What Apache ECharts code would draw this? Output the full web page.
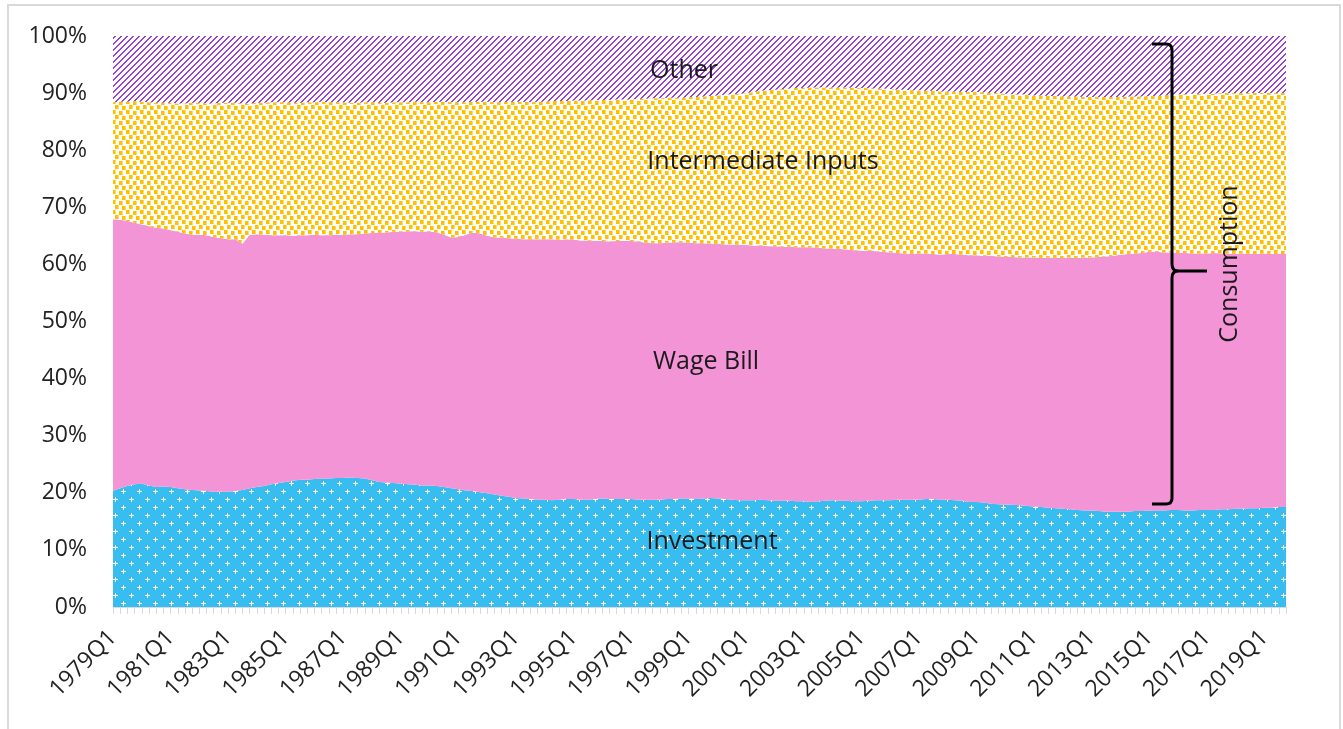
<!DOCTYPE html>
<html>
<head>
<meta charset="utf-8">
<script src="https://cdn.jsdelivr.net/npm/echarts@6/dist/echarts.min.js"></script>
<style>
  html, body { margin: 0; padding: 0; background: #fff; }
  #chart { width: 1343px; height: 729px; }
</style>
</head>
<body>
<div id="chart"></div>
<script>
// quarters 1979Q1 .. 2019Q4
const years = [1979, 1980, 1981, 1982, 1983, 1984, 1985, 1986, 1987, 1988, 1989, 1990, 1991, 1992,
  1993, 1994, 1995, 1996, 1997, 1998, 1999, 2000, 2001, 2002, 2003, 2004, 2005, 2006, 2007, 2008,
  2009, 2010, 2011, 2012, 2013, 2014, 2015, 2016, 2017, 2018, 2019]
const quarters = ['Q1', 'Q2', 'Q3', 'Q4']
const categories = []
years.forEach(y => quarters.forEach(q => categories.push(y + q)))

// band boundaries (cumulative, %)
// top of investment (bottom band)
const investment = [
  20.3, 20.8, 21.2, 21.5,  21.6, 21.3, 21.0, 21.1,  21.0, 20.8, 20.6, 20.5,  20.4, 20.3, 20.2, 20.2,
  20.2, 20.3, 20.5, 20.8,  21.0, 21.2, 21.5, 21.7,  21.9, 22.1, 22.3, 22.3,  22.4, 22.5, 22.5, 22.6,
  22.6, 22.7, 22.6, 22.5,  22.2, 21.9, 21.8, 21.7,  21.6, 21.5, 21.4, 21.3,  21.3, 21.2, 21.0, 20.8,
  20.6, 20.4, 20.3, 20.1,  19.9, 19.7, 19.5, 19.3,  19.1, 19.0, 18.9, 18.8,  18.8, 18.7, 18.8, 18.9,
  18.9, 18.8, 18.8, 18.9,  19.0, 18.9, 18.9, 18.9,  18.9, 18.8, 18.8, 18.8,  18.8, 18.9, 18.9, 19.0,
  19.0, 18.9, 19.0, 19.1,  19.0, 18.9, 18.8, 18.7,  18.7, 18.7, 18.8, 18.7,  18.6, 18.6, 18.6, 18.5,
  18.5, 18.4, 18.5, 18.6,  18.7, 18.6, 18.6, 18.5,  18.5, 18.6, 18.7, 18.7,  18.7, 18.8, 18.8, 18.8,
  18.8, 18.9, 18.9, 18.8,  18.8, 18.7, 18.6, 18.4,  18.4, 18.3, 18.1, 18.0,  17.9, 17.9, 17.8, 17.7,
  17.6, 17.5, 17.4, 17.3,  17.2, 17.1, 17.0, 16.9,  16.9, 16.8, 16.7, 16.7,  16.7, 16.7, 16.8, 16.8,
  16.9, 16.9, 16.9, 17.0,  17.0, 16.9, 16.9, 17.0,  17.0, 17.0, 17.1, 17.1,  17.2, 17.2, 17.3, 17.3,
  17.4, 17.4, 17.5, 17.5
]
// top of wage bill (investment + wage bill)
const wageBillTop = [
  67.9, 67.8, 67.6, 67.3,  67.0, 66.7, 66.4, 66.3,  66.0, 65.7, 65.4, 65.2,  65.2, 65.1, 64.8, 64.6,
  64.4, 64.4, 63.6, 65.2,  65.3, 65.2, 65.1, 65.1,  65.1, 65.0, 65.1, 65.1,  65.2, 65.1, 65.1, 65.2,
  65.2, 65.3, 65.3, 65.4,  65.5, 65.5, 65.6, 65.7,  65.7, 65.8, 65.8, 65.7,  65.8, 65.6, 65.2, 64.7,
  64.8, 65.2, 65.6, 65.4,  65.0, 64.7, 64.7, 64.6,  64.5, 64.4, 64.4, 64.4,  64.4, 64.4, 64.3, 64.4,
  64.3, 64.2, 64.2, 64.1,  64.1, 64.0, 64.1, 64.1,  64.1, 64.0, 63.8, 63.7,  63.7, 63.8, 63.9, 63.9,
  63.8, 63.7, 63.7, 63.6,  63.6, 63.5, 63.5, 63.4,  63.4, 63.3, 63.3, 63.2,  63.2, 63.1, 63.1, 63.0,
  63.0, 63.0, 62.9, 62.8,  62.8, 62.7, 62.6, 62.5,  62.4, 62.4, 62.3, 62.2,  62.1, 62.0, 61.9, 61.8,
  61.9, 61.9, 61.8, 61.7,  61.8, 61.8, 61.7, 61.6,  61.6, 61.5, 61.5, 61.4,  61.3, 61.3, 61.2, 61.2,
  61.2, 61.1, 61.2, 61.1,  61.1, 61.2, 61.1, 61.2,  61.2, 61.3, 61.4, 61.5,  61.7, 61.8, 61.9, 62.0,
  62.2, 62.2, 62.1, 62.1,  62.0, 62.0, 61.9, 61.9,  61.9, 62.0, 61.9, 61.9,  61.8, 61.9, 61.8, 61.8,
  61.9, 61.8, 61.8, 61.8
]
// top of intermediate inputs
const intermediateTop = [
  88.4, 88.5, 88.5, 88.6,  88.5, 88.4, 88.3, 88.3,  88.3, 88.2, 88.2, 88.3,  88.3, 88.2, 88.2, 88.3,
  88.3, 88.3, 88.2, 88.2,  88.3, 88.3, 88.4, 88.4,  88.4, 88.3, 88.3, 88.4,  88.4, 88.5, 88.4, 88.4,
  88.4, 88.3, 88.3, 88.4,  88.4, 88.3, 88.3, 88.4,  88.4, 88.4, 88.5, 88.4,  88.4, 88.5, 88.5, 88.4,
  88.4, 88.4, 88.5, 88.5,  88.5, 88.4, 88.4, 88.5,  88.5, 88.5, 88.4, 88.5,  88.5, 88.6, 88.6, 88.6,
  88.7, 88.7, 88.7, 88.8,  88.8, 88.8, 88.9, 88.9,  88.9, 89.0, 89.0, 89.1,  89.1, 89.2, 89.2, 89.2,
  89.3, 89.3, 89.4, 89.5,  89.6, 89.7, 89.8, 89.9,  90.0, 90.2, 90.4, 90.5,  90.6, 90.7, 90.8, 90.9,
  90.9, 91.0, 91.0, 91.0,  91.0, 91.0, 91.0, 90.9,  90.9, 90.9, 90.8, 90.8,  90.7, 90.6, 90.6, 90.5,
  90.5, 90.4, 90.4, 90.3,  90.3, 90.3, 90.2, 90.2,  90.2, 90.1, 90.0, 90.0,  89.9, 89.8, 89.8, 89.7,
  89.6, 89.6, 89.5, 89.5,  89.4, 89.4, 89.4, 89.3,  89.3, 89.3, 89.3, 89.3,  89.3, 89.4, 89.4, 89.4,
  89.5, 89.5, 89.6, 89.7,  89.8, 89.8, 89.9, 89.9,  89.9, 89.9, 90.0, 90.0,  90.0, 90.0, 90.0, 90.0,
  90.0, 90.0, 90.0, 90.0
]
const CEILING = 100 // top of the 100% stack, "Other" fills up to here

// band thickness for the stacked areas
const diff = (top, below) => top.map((v, i) => +(v - below[i]).toFixed(2))
const wageShare = diff(wageBillTop, investment)
const interShare = diff(intermediateTop, wageBillTop)
const otherShare = intermediateTop.map(v => +(CEILING - v).toFixed(2))

const FONT = '"Open Sans", sans-serif'

// pattern fills like the excel ones
function tile(w, h, base, draw) {
  const c = document.createElement('canvas')
  c.width = w
  c.height = h
  const ctx = c.getContext('2d')
  ctx.fillStyle = base
  ctx.fillRect(0, 0, w, h)
  draw(ctx)
  return { image: c, repeat: 'repeat' }
}
const investPattern = tile(16, 16, '#38bdf1', ctx => {
  ctx.fillStyle = '#ffffff'
  ;[[3, 3], [11, 11]].forEach(([cx, cy]) => {
    ctx.fillRect(cx - 2, cy, 5, 1)
    ctx.fillRect(cx, cy - 2, 1, 5)
  })
})
const wageFill = '#f294d6'
const interPattern = tile(14, 10, '#ffffff', ctx => {
  const spots = [[0, 0], [7, 1], [3, 5], [10, 6]]
  spots.forEach(([x, y]) => {
    ctx.fillStyle = '#ffd966'
    ctx.fillRect(x, y, 4, 4)
    ctx.fillStyle = '#ffc000'
    ctx.fillRect(x, y, 3, 4)
  })
})
const otherPattern = tile(6, 6, '#ffffff', ctx => {
  ctx.fillStyle = '#9b3fd9'
  for (let x = 0; x < 6; x++) for (let y = 0; y < 6; y++) {
    if ((x + y) % 6 < 2) ctx.fillRect(x, y, 1, 1)
  }
})

function band(name, data, fill) {
  return {
    name: name,
    type: 'line',
    stack: 'total',
    data: data,
    symbol: 'none',
    lineStyle: { width: 0, opacity: 0 },
    itemStyle: { color: fill },
    areaStyle: { color: fill, opacity: 1 },
    emphasis: { disabled: true },
    silent: true
  }
}

const braceStyle = { stroke: '#000', lineWidth: 3, fill: null }
const labelStyle = (text, size) => ({ text: text, fontSize: size, fontFamily: FONT, fill: '#1a1a1a', align: 'center', verticalAlign: 'middle' })

const chart = echarts.init(document.getElementById('chart'))
chart.setOption({
  animation: false,
  backgroundColor: '#fff',
  grid: { left: 113, right: 57, top: 36, bottom: 122 },
  xAxis: {
    type: 'category',
    boundaryGap: false,
    data: categories,
    axisLine: { lineStyle: { color: '#d9d9d9', width: 1 } },
    axisTick: { show: true, interval: 0, length: 7, lineStyle: { color: '#d9d9d9' } },
    axisLabel: { interval: 7, rotate: 45, fontSize: 23, fontFamily: FONT, color: '#222', margin: 27 }
  },
  yAxis: {
    type: 'value',
    min: 0,
    max: 100,
    interval: 10,
    axisLine: { show: false },
    axisTick: { show: false },
    splitLine: { show: false },
    axisLabel: { formatter: '{value}%', fontSize: 23, fontFamily: FONT, color: '#222', margin: 26 }
  },
  series: [
    band('Investment', investment, investPattern),
    band('Wage Bill', wageShare, wageFill),
    band('Intermediate Inputs', interShare, interPattern),
    band('Other', otherShare, otherPattern)
  ],
  graphic: [
    { type: 'rect', shape: { x: 8, y: 5, width: 1332, height: 740 }, style: { stroke: '#d9d9d9', lineWidth: 2, fill: 'none' }, z: -1 },
    { type: 'group', z: 100, children: [
      { type: 'text', x: 684, y: 71, z: 100, style: labelStyle('Other', 25) },
      { type: 'text', x: 763, y: 162, z: 100, style: labelStyle('Intermediate Inputs', 25) },
      { type: 'text', x: 706, y: 362, z: 100, style: labelStyle('Wage Bill', 25) },
      { type: 'text', x: 712, y: 542, z: 100, style: labelStyle('Investment', 25) },
      { type: 'text', x: 1230, y: 264, z: 100, rotation: Math.PI / 2, style: labelStyle('Consumption', 25) },
      // curly brace
      { type: 'line', z: 100, shape: { x1: 1152, y1: 44, x2: 1166, y2: 44 }, style: braceStyle },
      { type: 'bezierCurve', z: 100, shape: { x1: 1166, y1: 44, x2: 1172, y2: 50, cpx1: 1172, cpy1: 44 }, style: braceStyle },
      { type: 'line', z: 100, shape: { x1: 1172, y1: 50, x2: 1172, y2: 264 }, style: braceStyle },
      { type: 'bezierCurve', z: 100, shape: { x1: 1172, y1: 264, x2: 1178, y2: 271, cpx1: 1172, cpy1: 271 }, style: braceStyle },
      { type: 'line', z: 100, shape: { x1: 1178, y1: 271, x2: 1207, y2: 271 }, style: braceStyle },
      { type: 'bezierCurve', z: 100, shape: { x1: 1178, y1: 271, x2: 1172, y2: 278, cpx1: 1172, cpy1: 271 }, style: braceStyle },
      { type: 'line', z: 100, shape: { x1: 1172, y1: 278, x2: 1172, y2: 498 }, style: braceStyle },
      { type: 'bezierCurve', z: 100, shape: { x1: 1172, y1: 498, x2: 1166, y2: 504, cpx1: 1172, cpy1: 504 }, style: braceStyle },
      { type: 'line', z: 100, shape: { x1: 1166, y1: 504, x2: 1152, y2: 504 }, style: braceStyle }
    ] }
  ]
})
</script>
</body>
</html>
